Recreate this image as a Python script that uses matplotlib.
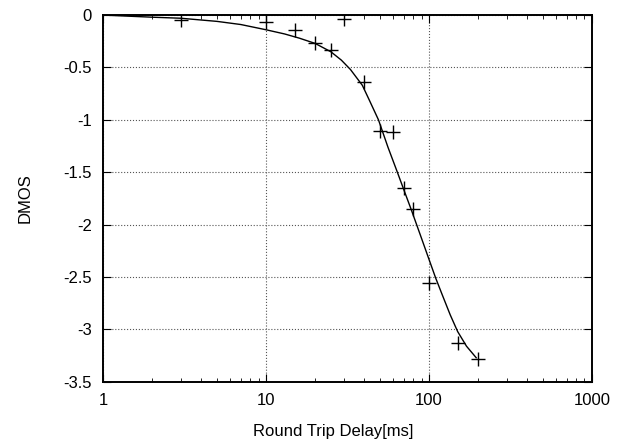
import matplotlib.pyplot as plt
import numpy as np

plt.rcParams['font.family'] = ['Liberation Sans', 'DejaVu Sans']

# measured points (round trip delay in ms, DMOS)
delay = [3, 10, 15, 20, 25, 30, 40, 50, 60, 70, 80, 100, 150, 200]
dmos = [-0.05, -0.07, -0.14, -0.27, -0.33, -0.04, -0.64, -1.11, -1.12, -1.65, -1.85, -2.56, -3.13, -3.28]

# fitted curve
fit_x = [1, 2, 3, 5, 7, 10, 13, 16, 20, 25, 29, 33, 39, 43, 49, 56, 64, 71, 78, 90, 100, 110, 120, 135, 150, 170, 195]
fit_y = [0, -0.02, -0.03, -0.06, -0.09, -0.14, -0.18, -0.22, -0.27, -0.35, -0.43, -0.52, -0.67, -0.81, -1.0, -1.26, -1.5, -1.69, -1.86, -2.13, -2.33, -2.51, -2.66, -2.86, -3.02, -3.16, -3.27]

yticks = [0, -0.5, -1, -1.5, -2, -2.5, -3, -3.5]
ytick_labels = ['0', '-0.5', '-1', '-1.5', '-2', '-2.5', '-3', '-3.5']
xticks = [1, 10, 100, 1000]
xtick_labels = ['1', '10', '100', '1000']

fig = plt.figure(figsize=(6.25, 4.44), dpi=100)
ax = fig.add_axes([0.165, 0.14, 0.782, 0.826])

ax.plot(fit_x, fit_y, color='black', linewidth=1.0)
ax.plot(delay, dmos, linestyle='none', marker='+', markersize=10, markeredgewidth=1.0, color='black')

ax.set_xscale('log')
ax.set_xlim(1, 1000)
ax.set_ylim(-3.5, 0)
ax.set_xticks(xticks)
ax.set_xticklabels(xtick_labels)
ax.set_yticks(yticks)
ax.set_yticklabels(ytick_labels)

ax.grid(True, which='major', linestyle=':', color='#555555', linewidth=0.8)
ax.tick_params(which='both', direction='in', top=True, right=True, labelsize=12, pad=8)
ax.tick_params(which='major', length=6)
ax.tick_params(which='minor', length=3)
for s in ax.spines.values():
    s.set_linewidth(1.4)

ax.set_xlabel('Round Trip Delay[ms]', fontsize=12, labelpad=10)
ax.xaxis.set_label_coords(0.47, -0.115)
ax.set_ylabel('DMOS', fontsize=12, labelpad=22)

fig.savefig('out.png', dpi=100)
